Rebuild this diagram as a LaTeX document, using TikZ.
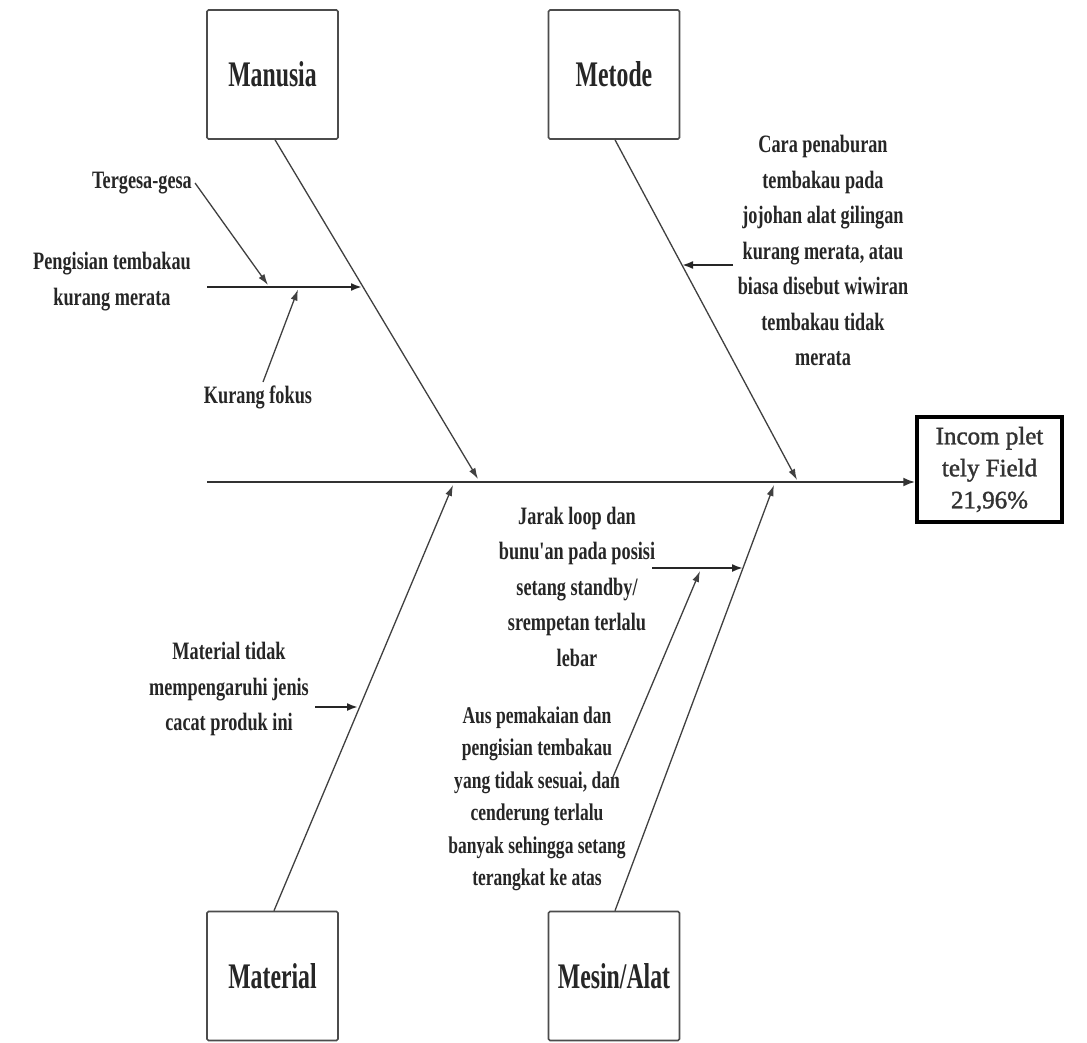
\documentclass[tikz,border=0pt]{standalone}
\usepackage{fontspec}
\setmainfont{Liberation Serif}
\newfontfamily\boxfont[FakeStretch=0.66]{Liberation Serif Bold}
\newfontfamily\notefont[FakeStretch=0.73]{Liberation Serif Bold}
\newfontfamily\efffont[FakeBold=1.5]{Liberation Serif}
\usetikzlibrary{arrows.meta}

\tikzset{
  cat/.style={draw=black!70, line width=1.6pt, rounded corners=1.5pt,
    minimum width=131pt, minimum height=129pt, inner sep=0pt, text=black!85,
    font=\boxfont\fontsize{36}{40}\selectfont},
  effect/.style={draw=black, line width=3.5pt, minimum width=145pt,
    minimum height=105pt, inner sep=0pt, align=center, text=black!80,
    font=\efffont\fontsize{25}{32}\selectfont},
  note/.style={align=center, inner sep=0pt, text=black!85,
    font=\notefont\fontsize{25}{35.5}\selectfont},
  spine/.style={draw=black!80, line width=2.2pt, -{Latex[length=12pt,width=9pt]}},
  bone/.style={draw=black!75, line width=1.3pt, -{Latex[length=11pt,width=7pt]}},
  sub/.style={draw=black!85, line width=2pt, -{Latex[length=11pt,width=8pt]}}
}

\begin{document}
\begin{tikzpicture}[x=1pt,y=-1pt]
\useasboundingbox[fill=white] (0,0) rectangle (1087,1042);

% category boxes and the effect
\node[cat] (man) at (272.5,74.5) {Manusia};
\node[cat] (met) at (614,74.5) {Metode};
\node[cat] (mat) at (272.5,976) {Material};
\node[cat] (mes) at (614,976) {Mesin/Alat};
\node[effect] (eff) at (989.5,469.5) {Incom plet\\tely Field\\21,96\%};

% main spine
\coordinate (head) at (207,482);
\draw[spine] (head) -- (head -| eff.west);

% main bones
\coordinate (manEnd) at (478,479);
\coordinate (metEnd) at (797,480);
\coordinate (matEnd) at (453,485);
\coordinate (mesEnd) at (774,485);
\draw[bone] ([xshift=2.5pt]man.south) -- (manEnd);
\draw[bone] ([xshift=1pt]met.south) -- (metEnd);
\draw[bone] ([xshift=1.5pt]mat.north) -- (matEnd);
\draw[bone] ([xshift=1pt]mes.north) -- (mesEnd);

% Manusia causes
\node[note] (peng) at (112,281.5) {Pengisian tembakau\\kurang merata};
\node[note] (ter) at (142,183) {Tergesa-gesa};
\node[note] (kf) at (258,397) {Kurang fokus};
\coordinate (pengS) at (207,287);
\coordinate (pengE) at (362,287);
\coordinate (terE) at (268,285);
\coordinate (kfS) at (263,382);
\coordinate (kfE) at (298,289.5);
\draw[sub] (pengS) -- (pengE);
\draw[bone] ([xshift=3pt]ter.east) -- (terE);
\draw[bone] (kfS) -- (kfE);

% Metode cause
\node[note] (cara) at (823,250.5) {Cara penaburan\\tembakau pada\\jojohan alat gilingan\\kurang merata, atau\\biasa disebut wiwiran\\tembakau tidak\\merata};
\coordinate (caraS) at (733,265);
\coordinate (caraE) at (682,265);
\draw[sub] (caraS) -- (caraE);

% Material cause
\node[note] (matc) at (229,689) {Material tidak\\mempengaruhi jenis\\cacat produk ini};
\coordinate (matS) at (315,707);
\coordinate (matE) at (358,707);
\draw[sub] (matS) -- (matE);

% Mesin/Alat causes
\node[note] (jarak) at (577,586.5) {Jarak loop dan\\bunu'an pada posisi\\setang standby/\\srempetan terlalu\\lebar};
\node[note, font=\notefont\fontsize{24}{32.5}\selectfont] (aus) at (537,799) {Aus pemakaian dan\\pengisian tembakau\\yang tidak sesuai, dan\\cenderung terlalu\\banyak sehingga setang\\terangkat ke atas};
\coordinate (jarakS) at (652,568);
\coordinate (jarakE) at (743,568);
\coordinate (ausS) at (613,777);
\coordinate (ausE) at (700,571);
\draw[sub] (jarakS) -- (jarakE);
\draw[bone] (ausS) -- (ausE);
\end{tikzpicture}
\end{document}
